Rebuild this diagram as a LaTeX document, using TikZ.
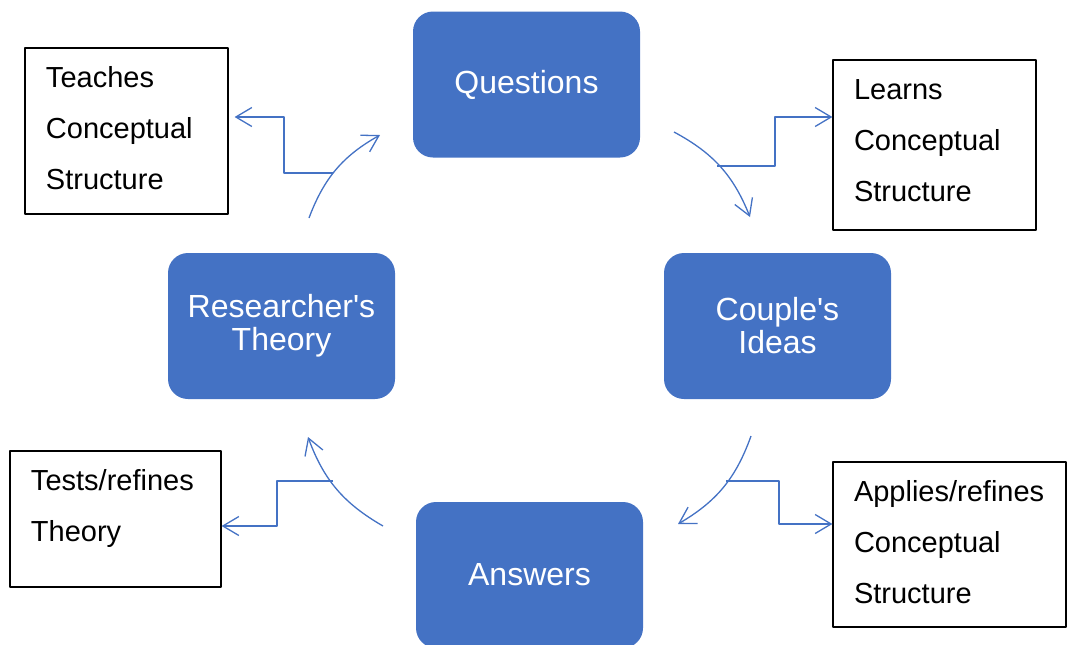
\documentclass[tikz,border=0pt]{standalone}
\usepackage{fontspec}
\setmainfont{Liberation Sans}
\usetikzlibrary{arrows.meta}
\definecolor{officeblue}{RGB}{68,114,196}
\newcommand{\notetext}[3]{\parbox[c][#1][t]{#2}{\rule{0pt}{19.5pt}#3}}

\begin{document}
\begin{tikzpicture}[x=0.5pt, y=-0.5pt, line join=round,
        every node/.append style={font=\fontsize{16pt}{16.5pt}\selectfont}]
      \tikzstyle{stage} = [rectangle, rounded corners=10pt, fill=officeblue, text=white,
        minimum width=113.5pt, minimum height=73pt, align=center]
      \tikzstyle{note} = [rectangle, draw=black, line width=0.6pt, inner xsep=10.5pt, inner ysep=0pt,
        font=\fontsize{14.5pt}{25.5pt}\selectfont]
      \tikzstyle{flow} = [officeblue, line width=0.65pt, -{Straight Barb[length=8pt,width=9.5pt]}]
      \useasboundingbox (0,0) rectangle (1067,644);
      \node (Questions) [stage] at (526.5,84.5) {Questions};
      \node (Ideas) [stage] at (777.5,326) {Couple\textquotesingle s\\Ideas};
      \node (Answers) [stage] at (529.5,575) {Answers};
      \node (Theory) [stage] at (281.5,326) {Researcher\textquotesingle s\\Theory};
      \node (Teaches) [note] at (126.5,131) {\notetext{83pt}{80.5pt}{Teaches\\Conceptual\\Structure}};
      \node (Learns) [note] at (934.5,145) {\notetext{85pt}{80.5pt}{Learns\\Conceptual\\Structure}};
      \node (Tests) [note] at (115.5,519) {\notetext{68pt}{84.5pt}{Tests/refines\\Theory}};
      \node (Applies) [note] at (949.5,544.5) {\notetext{82.5pt}{95.5pt}{Applies/refines\\Conceptual\\Structure}};
      \coordinate (TQ1) at (309,218);  \coordinate (TQ2) at (380,135);
      \coordinate (QI1) at (674,132);  \coordinate (QI2) at (750,217);
      \coordinate (IA1) at (751,436);  \coordinate (IA2) at (678,524);
      \coordinate (AT1) at (383,526);  \coordinate (AT2) at (308,437);
      \draw[flow] (TQ1) to [bend left=20] (TQ2);
      \draw[flow] (QI1) to [bend left=20] (QI2);
      \draw[flow] (IA1) to [bend left=20] (IA2);
      \draw[flow] (AT1) to [bend left=20] (AT2);
      \coordinate (TeachesIn) at (333,173);
      \coordinate (LearnsIn) at (717,166);
      \coordinate (AppliesIn) at (726,481);
      \coordinate (TestsIn) at (333,481);
      \draw[flow, shorten >=3pt] (TeachesIn) -- ++(-49,0) |- (Teaches.east |- 0,117);
      \draw[flow] (LearnsIn) -- ++(58,0) |- (Learns.west |- 0,117);
      \draw[flow] (AppliesIn) -- ++(53,0) |- (Applies.west |- 0,524);
      \draw[flow] (TestsIn) -- ++(-56,0) |- (Tests.east |- 0,526);
    \end{tikzpicture}
\end{document}
